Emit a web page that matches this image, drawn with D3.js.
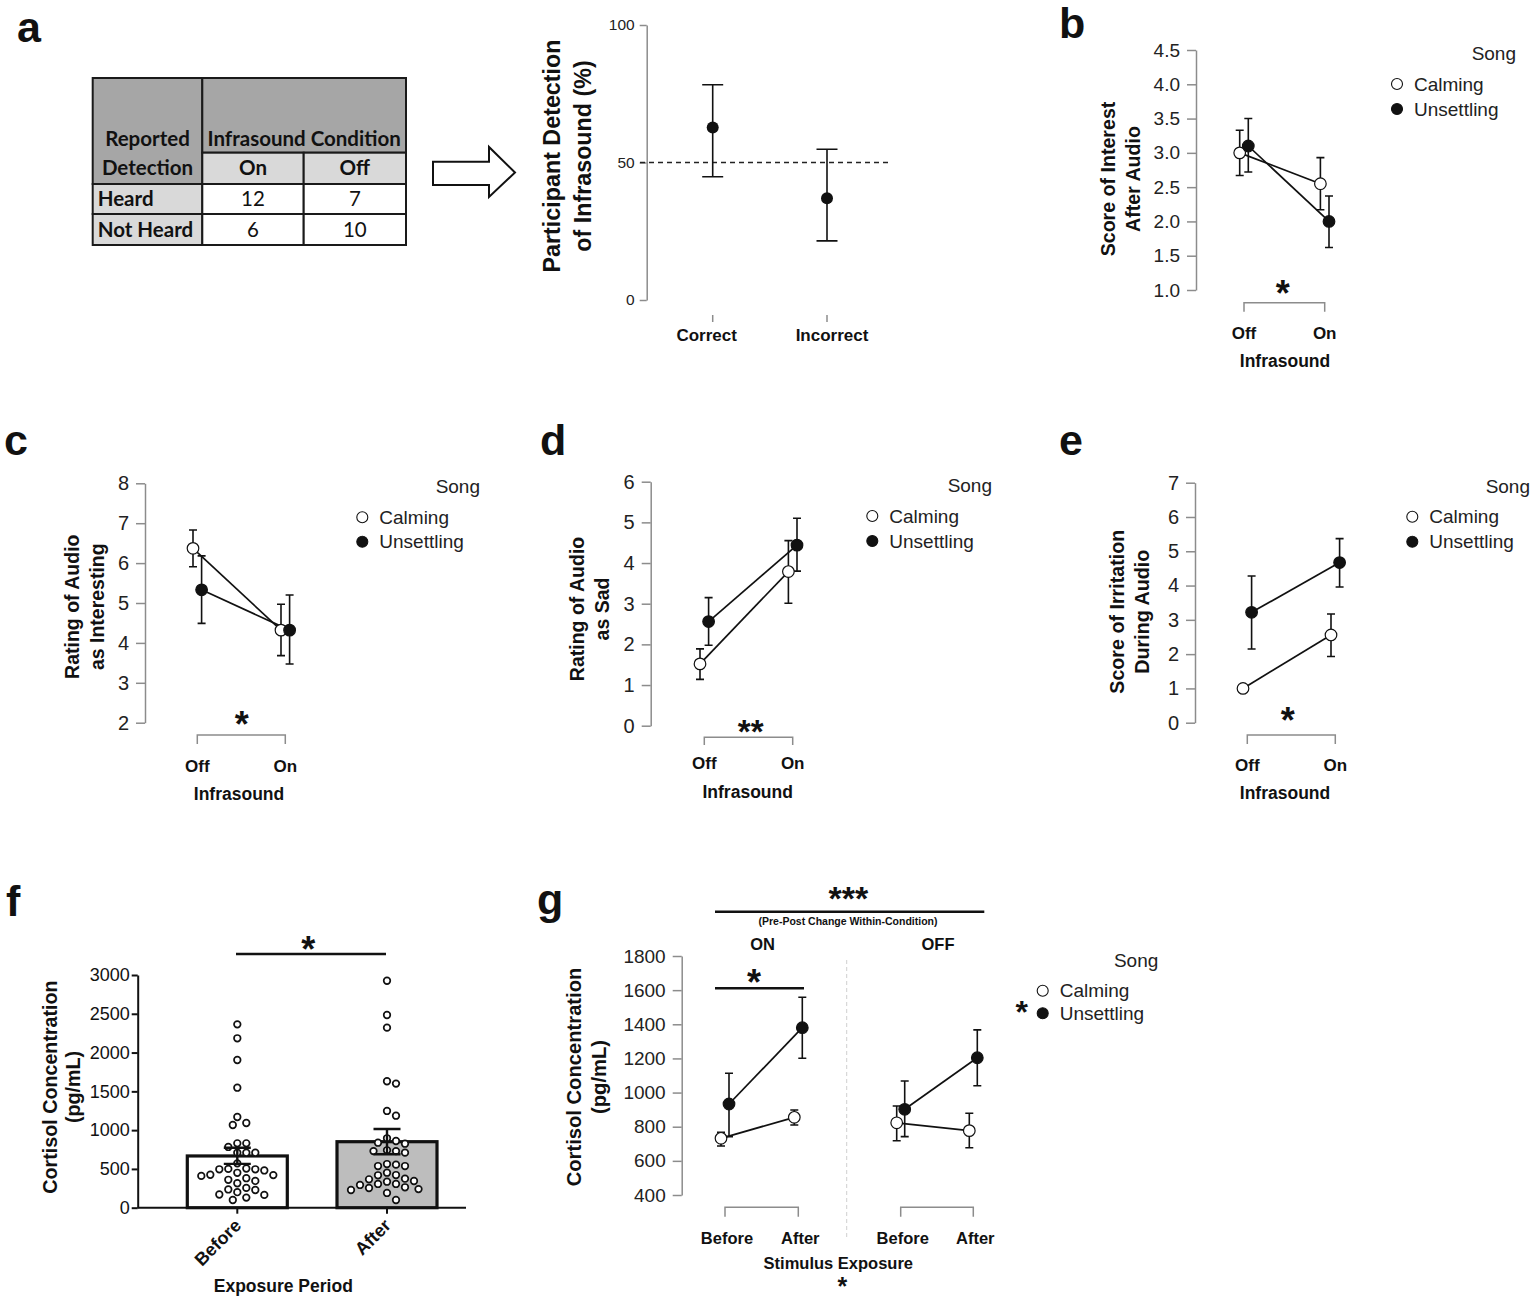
<!DOCTYPE html>
<html>
<head>
<meta charset="utf-8">
<script src="https://cdn.jsdelivr.net/npm/d3@7"></script>
<style>
  body { margin: 0; background: #fff; }
  svg { display: block; font-family: "Liberation Sans", Arial, sans-serif; }
</style>
</head>
<body>
<svg id="fig" width="1535" height="1300"></svg>
<script>
// ---------- data ----------
var tableCols = ["On", "Off"];
var tableRows = ["Heard", "Not Heard"];
var heardCounts = [12, 7];
var notHeardCounts = [6, 10];

var detectCats = ["Correct", "Incorrect"];
var detectMean = [62.7, 37.0];
var detectLo = [44.8, 21.5];
var detectHi = [78.3, 54.8];

var songs = ["Calming", "Unsettling"];
var infraLevels = ["Off", "On"];

// b: score of interest after audio
var interestCalm = [3.0, 2.55], interestCalmLo = [2.67, 2.17], interestCalmHi = [3.33, 2.93];
var interestUns = [3.1, 2.0], interestUnsLo = [2.72, 1.62], interestUnsHi = [3.5, 2.37];
// c: rating as interesting
var interestingCalm = [6.37, 4.32], interestingCalmLo = [5.91, 3.68], interestingCalmHi = [6.83, 4.97];
var interestingUns = [5.33, 4.32], interestingUnsLo = [4.49, 3.47], interestingUnsHi = [6.18, 5.2];
// d: rating as sad
var sadCalm = [1.52, 3.79], sadCalmLo = [1.14, 3.01], sadCalmHi = [1.89, 4.55];
var sadUns = [2.56, 4.44], sadUnsLo = [1.98, 3.8], sadUnsHi = [3.15, 5.1];
// e: irritation during audio
var irritCalm = [1.0, 2.56], irritCalmLo = [1.0, 1.93], irritCalmHi = [1.0, 3.17];
var irritUns = [3.22, 4.67], irritUnsLo = [2.15, 3.96], irritUnsHi = [4.28, 5.37];

// f: cortisol before / after
var periods = ["Before", "After"];
var cortBarMean = [667, 851];
var cortBarLo = [565, 690];
var cortBarHi = [773, 1015];
var cortBefore = [2364, 2184, 1904, 1547, 1169, 1092, 1066, 830, 830, 783, 709, 709, 709, 572,
  505, 500, 495, 495, 480, 450, 425, 420, 410, 380, 360, 345, 315, 255, 235, 228, 200, 170, 165, 130, 99];
var cortAfter = [2926, 2484, 2321, 1630, 1600, 1247, 1186, 895, 860, 838, 825, 740, 730, 730, 710,
  563, 555, 537, 537, 451, 421, 418, 374, 366, 344, 335, 306, 306, 293, 263, 254, 240, 228, 190, 99];

// g: cortisol by infrasound condition and song
var conditions = ["ON", "OFF"];
var onCalm = [732, 855], onCalmLo = [687, 810], onCalmHi = [768, 898];
var onUns = [933, 1380], onUnsLo = [742, 1201], onUnsHi = [1113, 1558];
var offCalm = [823, 777], offCalmLo = [718, 677], offCalmHi = [921, 879];
var offUns = [902, 1204], offUnsLo = [742, 1040], offUnsHi = [1068, 1367];

// ---------- drawing ----------
var svg = d3.select("#fig");
var GRAY = "#8c8c8c";
var INK = "#111";

// cy = visual centre of the asterisk glyph
function star(g, x, cy, fs, s) {
  g.append("text").attr("x", x).attr("y", cy + fs * 0.58)
    .attr("text-anchor", "middle").attr("font-weight", "bold")
    .attr("font-size", fs).attr("fill", INK).text(s || "*");
}

function yLabel(g, lines, xs, cy, fs) {
  lines.forEach(function (t, i) {
    g.append("text")
      .attr("transform", "translate(" + xs[i] + "," + cy + ") rotate(-90)")
      .attr("text-anchor", "middle").attr("dy", "0.36em")
      .attr("font-weight", "bold").attr("font-size", fs).attr("fill", INK)
      .text(t);
  });
}

function errBar(g, x, ylo, yhi, half, w) {
  g.append("path")
    .attr("d", "M" + x + "," + ylo + "V" + yhi +
      "M" + (x - half) + "," + yhi + "H" + (x + half) +
      "M" + (x - half) + "," + ylo + "H" + (x + half))
    .attr("stroke", INK).attr("stroke-width", w || 1.6).attr("fill", "none");
}

function legend(g, L) {
  g.append("text").attr("x", L.right).attr("y", L.songY + 6).attr("text-anchor", "end")
    .attr("font-size", 19).attr("fill", "#222").text("Song");
  songs.forEach(function (s, i) {
    g.append("circle").attr("cx", L.x).attr("cy", L.ys[i]).attr("r", 5.5)
      .attr("fill", i === 0 ? "#fff" : INK).attr("stroke", INK).attr("stroke-width", 1.1);
    g.append("text").attr("x", L.x + 17).attr("y", L.ys[i] + 6.5)
      .attr("font-size", 19).attr("fill", "#222").text(s);
  });
}

function grayAxis(g, y, ticks, fmt, axisX, fs) {
  var ax = d3.axisLeft(y).tickValues(ticks).tickFormat(fmt)
    .tickSize(9).tickSizeOuter(0).tickPadding(7);
  var ag = g.append("g").attr("transform", "translate(" + axisX + ",0)").call(ax);
  ag.select(".domain").attr("stroke", GRAY).attr("stroke-width", 1.5);
  ag.selectAll(".tick line").attr("stroke", GRAY).attr("stroke-width", 1.5);
  ag.selectAll(".tick text").attr("fill", "#222").attr("font-size", fs)
    .attr("font-family", '"Liberation Sans", Arial, sans-serif');
  return ag;
}

// series: [{mean, lo, hi}, ...] in song order; x is a point scale over levels
function pointSeries(g, x, y, levels, series, dodge) {
  var line = d3.line().x(function (d) { return d.x; }).y(function (d) { return y(d.m); });
  var pts = series.map(function (s, si) {
    var dx = si === 0 ? -dodge : dodge;
    return levels.map(function (lv, i) {
      return { x: x(lv) + dx, m: s.mean[i], lo: s.lo[i], hi: s.hi[i], si: si };
    });
  });
  pts.forEach(function (p) {
    g.append("path").datum(p).attr("d", line)
      .attr("fill", "none").attr("stroke", INK).attr("stroke-width", 1.7);
  });
  pts.forEach(function (p) {
    p.forEach(function (d) { if (d.hi > d.lo) errBar(g, d.x, y(d.lo), y(d.hi), 4); });
  });
  pts.forEach(function (p) {
    g.selectAll(null).data(p).enter().append("circle")
      .attr("cx", function (d) { return d.x; })
      .attr("cy", function (d) { return y(d.m); })
      .attr("r", 5.8)
      .attr("fill", function (d) { return d.si === 0 ? "#fff" : INK; })
      .attr("stroke", INK).attr("stroke-width", 1.2);
  });
}

function interaction(cfg) {
  var g = svg.append("g");
  var y = d3.scaleLinear().domain(cfg.domain).range(cfg.yRange);
  var x = d3.scalePoint().domain(infraLevels).range(cfg.xRange);
  grayAxis(g, y, cfg.ticks, cfg.fmt, cfg.axisX, cfg.tickFs);
  g.append("path")
    .attr("d", "M" + x("Off") + "," + cfg.brBot + "V" + cfg.brTop + "H" + x("On") + "V" + cfg.brBot)
    .attr("fill", "none").attr("stroke", GRAY).attr("stroke-width", 1.5);
  g.selectAll(null).data(infraLevels).enter().append("text")
    .attr("x", function (d) { return x(d); }).attr("y", cfg.lvlY)
    .attr("text-anchor", "middle").attr("font-weight", "bold").attr("font-size", 17)
    .attr("fill", INK).text(function (d) { return d; });
  g.append("text").attr("x", cfg.titleX).attr("y", cfg.titleY).attr("text-anchor", "middle")
    .attr("font-weight", "bold").attr("font-size", 17.5).attr("fill", INK).text("Infrasound");
  star(g, cfg.starX, cfg.starY, cfg.starFs || 36, cfg.star);
  yLabel(g, cfg.ylab, cfg.ylabX, cfg.ylabY, cfg.ylabFs);
  pointSeries(g, x, y, infraLevels, cfg.series, 4.3);
  legend(g, cfg.legend);
}

// ---- panel letters ----
var letters = [["a", 17, 42], ["b", 1059, 38], ["c", 4, 455], ["d", 540, 455],
  ["e", 1059, 455], ["f", 6, 916], ["g", 537, 914]];
svg.selectAll(".letter").data(letters).enter().append("text")
  .attr("x", function (d) { return d[1]; }).attr("y", function (d) { return d[2]; })
  .attr("font-weight", "bold").attr("font-size", 43).attr("fill", INK)
  .text(function (d) { return d[0]; });

// ---- panel a: table ----
(function () {
  var g = svg.append("g").attr("font-family", "Lato, 'Liberation Sans', sans-serif");
  var xs = [92.7, 202.3, 303.7, 406];
  var ys = [78, 152.7, 184, 214, 245];
  var dark = "#a6a6a6", light = "#d9d9d9";
  var cells = [
    { c0: 0, c1: 1, r0: 0, r1: 2, fill: dark },
    { c0: 1, c1: 3, r0: 0, r1: 1, fill: dark },
    { c0: 1, c1: 2, r0: 1, r1: 2, fill: light, text: tableCols[0], bold: true },
    { c0: 2, c1: 3, r0: 1, r1: 2, fill: light, text: tableCols[1], bold: true },
    { c0: 0, c1: 1, r0: 2, r1: 3, fill: light, text: tableRows[0], bold: true, left: true },
    { c0: 1, c1: 2, r0: 2, r1: 3, fill: "#fff", text: heardCounts[0] },
    { c0: 2, c1: 3, r0: 2, r1: 3, fill: "#fff", text: heardCounts[1] },
    { c0: 0, c1: 1, r0: 3, r1: 4, fill: light, text: tableRows[1], bold: true, left: true },
    { c0: 1, c1: 2, r0: 3, r1: 4, fill: "#fff", text: notHeardCounts[0] },
    { c0: 2, c1: 3, r0: 3, r1: 4, fill: "#fff", text: notHeardCounts[1] }
  ];
  g.selectAll("rect").data(cells).enter().append("rect")
    .attr("x", function (d) { return xs[d.c0]; }).attr("y", function (d) { return ys[d.r0]; })
    .attr("width", function (d) { return xs[d.c1] - xs[d.c0]; })
    .attr("height", function (d) { return ys[d.r1] - ys[d.r0]; })
    .attr("fill", function (d) { return d.fill; })
    .attr("stroke", "#1a1a1a").attr("stroke-width", 2);
  g.selectAll(".cell").data(cells.filter(function (d) { return d.text !== undefined; })).enter()
    .append("text")
    .attr("x", function (d) { return d.left ? xs[d.c0] + 5 : (xs[d.c0] + xs[d.c1]) / 2; })
    .attr("y", function (d) { return (ys[d.r0] + ys[d.r1]) / 2 + 7; })
    .attr("text-anchor", function (d) { return d.left ? "start" : "middle"; })
    .attr("font-weight", function (d) { return d.bold ? "bold" : "normal"; })
    .attr("font-size", 20.5).attr("fill", "#111")
    .text(function (d) { return d.text; });
  g.append("text").attr("x", (xs[0] + xs[1]) / 2).attr("y", 146).attr("text-anchor", "middle")
    .attr("font-weight", "bold").attr("font-size", 20.5).attr("fill", "#111").text("Reported");
  g.append("text").attr("x", (xs[0] + xs[1]) / 2).attr("y", 175).attr("text-anchor", "middle")
    .attr("font-weight", "bold").attr("font-size", 20.5).attr("fill", "#111").text("Detection");
  g.append("text").attr("x", (xs[1] + xs[3]) / 2).attr("y", 146).attr("text-anchor", "middle")
    .attr("font-weight", "bold").attr("font-size", 20.5).attr("fill", "#111").text("Infrasound Condition");
  // arrow
  g.append("path")
    .attr("d", "M433,161.7H489V147L515,172.5L489,197V185H433Z")
    .attr("fill", "#fff").attr("stroke", "#111").attr("stroke-width", 2);
})();

// ---- panel a: detection chart ----
(function () {
  var g = svg.append("g");
  var y = d3.scaleLinear().domain([0, 100]).range([300, 25]);
  var x = d3.scalePoint().domain(detectCats).range([712.7, 827]);
  var ag = grayAxis(g, y, [0, 50, 100], d3.format("d"), 646.7, 15.5);
  ag.selectAll(".tick line").attr("x2", -7);
  ag.selectAll(".tick text").attr("x", -12);
  g.append("line").attr("x1", 640).attr("x2", 892).attr("y1", y(50)).attr("y2", y(50))
    .attr("stroke", "#222").attr("stroke-width", 1.5).attr("stroke-dasharray", "5,4");
  g.selectAll(".ct").data(detectCats).enter().append("line")
    .attr("x1", function (d) { return x(d); }).attr("x2", function (d) { return x(d); })
    .attr("y1", 315).attr("y2", 322).attr("stroke", GRAY).attr("stroke-width", 1.5);
  var labelShift = [-6, 5];
  g.selectAll(".cl").data(detectCats).enter().append("text")
    .attr("x", function (d, i) { return x(d) + labelShift[i]; }).attr("y", 341)
    .attr("text-anchor", "middle").attr("font-weight", "bold").attr("font-size", 17)
    .attr("fill", INK).text(function (d) { return d; });
  detectCats.forEach(function (c, i) {
    errBar(g, x(c), y(detectLo[i]), y(detectHi[i]), 10.5);
  });
  g.selectAll(".dp").data(detectCats).enter().append("circle")
    .attr("cx", function (d) { return x(d); })
    .attr("cy", function (d, i) { return y(detectMean[i]); })
    .attr("r", 6).attr("fill", INK);
  yLabel(g, ["Participant Detection", "of Infrasound (%)"], [552, 583], 156, 23.3);
})();

// ---- panels b-e ----
interaction({
  axisX: 1196, yRange: [290, 50], domain: [1, 4.5], ticks: d3.range(1, 4.51, 0.5),
  fmt: d3.format(".1f"), tickFs: 19, xRange: [1244, 1324.7], brTop: 302.7, brBot: 311.7,
  lvlY: 339, titleX: 1285, titleY: 367, starX: 1282.7, starY: 285,
  ylab: ["Score of Interest", "After Audio"], ylabX: [1108, 1133], ylabY: 179, ylabFs: 19.6,
  series: [{ mean: interestCalm, lo: interestCalmLo, hi: interestCalmHi },
           { mean: interestUns, lo: interestUnsLo, hi: interestUnsHi }],
  legend: { right: 1516, songY: 54, x: 1397, ys: [84, 109] }
});
interaction({
  axisX: 145, yRange: [722.7, 483.3], domain: [2, 8], ticks: d3.range(2, 9),
  fmt: d3.format("d"), tickFs: 20, xRange: [197.3, 285.3], brTop: 735, brBot: 744,
  lvlY: 772, titleX: 239, titleY: 800, starX: 241.7, starY: 716,
  ylab: ["Rating of Audio", "as Interesting"], ylabX: [71.7, 96.7], ylabY: 606.7, ylabFs: 19.5,
  series: [{ mean: interestingCalm, lo: interestingCalmLo, hi: interestingCalmHi },
           { mean: interestingUns, lo: interestingUnsLo, hi: interestingUnsHi }],
  legend: { right: 480, songY: 486.7, x: 362.3, ys: [517.3, 541.7] }
});
interaction({
  axisX: 650.7, yRange: [725.7, 481.7], domain: [0, 6], ticks: d3.range(0, 7),
  fmt: d3.format("d"), tickFs: 20, xRange: [704.3, 792.7], brTop: 737.3, brBot: 745,
  lvlY: 768.7, titleX: 747.7, titleY: 797.7, starX: 750.7, starY: 724, star: "**", starFs: 33,
  ylab: ["Rating of Audio", "as Sad"], ylabX: [576.7, 601.7], ylabY: 609, ylabFs: 19.5,
  series: [{ mean: sadCalm, lo: sadCalmLo, hi: sadCalmHi },
           { mean: sadUns, lo: sadUnsLo, hi: sadUnsHi }],
  legend: { right: 992, songY: 486, x: 872.3, ys: [516, 541] }
});
interaction({
  axisX: 1195, yRange: [722.7, 482.7], domain: [0, 7], ticks: d3.range(0, 8),
  fmt: d3.format("d"), tickFs: 20, xRange: [1247.3, 1335.3], brTop: 735, brBot: 744,
  lvlY: 771, titleX: 1285, titleY: 798.7, starX: 1287.7, starY: 712.3,
  ylab: ["Score of Irritation", "During Audio"], ylabX: [1116.7, 1141.7], ylabY: 611.7, ylabFs: 19.7,
  series: [{ mean: irritCalm, lo: irritCalmLo, hi: irritCalmHi },
           { mean: irritUns, lo: irritUnsLo, hi: irritUnsHi }],
  legend: { right: 1530, songY: 486.7, x: 1412.3, ys: [516.7, 541.7] }
});

// ---- panel f: bars with individual points ----
(function () {
  var g = svg.append("g");
  var y = d3.scaleLinear().domain([0, 3000]).range([1207.7, 975]);
  var x = d3.scalePoint().domain(periods).range([237.3, 387]);
  var barW = 100;
  var ax = d3.axisLeft(y).tickValues(d3.range(0, 3001, 500)).tickFormat(d3.format("d"))
    .tickSize(6).tickSizeOuter(0).tickPadding(2);
  var ag = g.append("g").attr("transform", "translate(137.7,0)").call(ax);
  ag.select(".domain").attr("stroke", INK).attr("stroke-width", 2);
  ag.selectAll(".tick line").attr("stroke", INK).attr("stroke-width", 2);
  ag.selectAll(".tick text").attr("fill", INK).attr("font-size", 18)
    .attr("font-family", '"Liberation Sans", Arial, sans-serif');
  g.append("line").attr("x1", 137.7).attr("x2", 466).attr("y1", y(0)).attr("y2", y(0))
    .attr("stroke", INK).attr("stroke-width", 2);
  g.selectAll(".xt").data(periods).enter().append("line")
    .attr("x1", function (d) { return x(d); }).attr("x2", function (d) { return x(d); })
    .attr("y1", y(0)).attr("y2", y(0) + 6).attr("stroke", INK).attr("stroke-width", 2);
  g.selectAll(".bar").data(periods).enter().append("rect")
    .attr("x", function (d) { return x(d) - barW / 2; })
    .attr("y", function (d, i) { return y(cortBarMean[i]); })
    .attr("width", barW)
    .attr("height", function (d, i) { return y(0) - y(cortBarMean[i]); })
    .attr("fill", function (d, i) { return i === 0 ? "#fff" : "#bdbdbd"; })
    .attr("stroke", INK).attr("stroke-width", 3.2);

  // simple beeswarm: keep each value's y, shift sideways to avoid overlap
  function swarm(vals, cx) {
    var placed = [], r2 = 8.6 * 8.6;
    vals.slice().sort(d3.descending).forEach(function (v) {
      var py = y(v);
      for (var k = 0; k < 40; k++) {
        var cands = k === 0 ? [0] : [k * 4.5, -k * 4.5];
        var hit = null;
        for (var j = 0; j < cands.length && hit === null; j++) {
          var px = cx + cands[j];
          var ok = placed.every(function (p) {
            return (p.x - px) * (p.x - px) + (p.y - py) * (p.y - py) >= r2;
          });
          if (ok) hit = px;
        }
        if (hit !== null) { placed.push({ x: hit, y: py }); break; }
      }
    });
    return placed;
  }
  [cortBefore, cortAfter].forEach(function (vals, i) {
    var pts = swarm(vals, x(periods[i]));
    g.selectAll(null).data(pts).enter().append("circle")
      .attr("cx", function (d) { return d.x; }).attr("cy", function (d) { return d.y; })
      .attr("r", 3.3).attr("fill", "#fff").attr("stroke", INK).attr("stroke-width", 1.7);
  });
  periods.forEach(function (p, i) {
    errBar(g, x(p), y(cortBarLo[i]), y(cortBarHi[i]), 13.5, 2.4);
  });
  g.selectAll(".xl").data(periods).enter().append("text")
    .attr("transform", function (d) { return "translate(" + (x(d) - 4) + "," + (y(0) + 10) + ") rotate(-45)"; })
    .attr("text-anchor", "end").attr("dy", "0.7em")
    .attr("font-weight", "bold").attr("font-size", 18).attr("fill", INK)
    .text(function (d) { return d; });
  g.append("text").attr("x", 283.3).attr("y", 1292).attr("text-anchor", "middle")
    .attr("font-weight", "bold").attr("font-size", 17.5).attr("fill", INK).text("Exposure Period");
  g.append("line").attr("x1", 236).attr("x2", 386).attr("y1", 954).attr("y2", 954)
    .attr("stroke", INK).attr("stroke-width", 2.5);
  star(g, 308.3, 941, 36);
  yLabel(g, ["Cortisol Concentration", "(pg/mL)"], [50, 73], 1087, 19.7);
})();

// ---- panel g ----
(function () {
  var g = svg.append("g");
  var y = d3.scaleLinear().domain([400, 1800]).range([1195, 956]);
  grayAxis(g, y, d3.range(400, 1801, 200), d3.format("d"), 681.7, 19);
  var groups = [
    { name: conditions[0], range: [725, 798.3], series: [
      { mean: onCalm, lo: onCalmLo, hi: onCalmHi }, { mean: onUns, lo: onUnsLo, hi: onUnsHi }] },
    { name: conditions[1], range: [900.7, 973.3], series: [
      { mean: offCalm, lo: offCalmLo, hi: offCalmHi }, { mean: offUns, lo: offUnsLo, hi: offUnsHi }] }
  ];
  g.append("line").attr("x1", 846.7).attr("x2", 846.7).attr("y1", 960).attr("y2", 1237)
    .attr("stroke", "#cfcfcf").attr("stroke-width", 1).attr("stroke-dasharray", "4,3");
  groups.forEach(function (grp) {
    var x = d3.scalePoint().domain(periods).range(grp.range);
    g.append("path")
      .attr("d", "M" + x("Before") + ",1216.7V1207.3H" + x("After") + "V1216.7")
      .attr("fill", "none").attr("stroke", GRAY).attr("stroke-width", 1.5);
    g.selectAll(null).data(periods).enter().append("text")
      .attr("x", function (d) { return x(d) + 2; }).attr("y", 1244.3)
      .attr("text-anchor", "middle").attr("font-weight", "bold").attr("font-size", 16.5)
      .attr("fill", INK).text(function (d) { return d; });
    g.append("text").attr("x", (grp.range[0] + grp.range[1]) / 2 + 1).attr("y", 949.5)
      .attr("text-anchor", "middle").attr("font-weight", "bold").attr("font-size", 16.5)
      .attr("fill", INK).text(grp.name);
    pointSeries(g, x, y, periods, grp.series, 4);
  });
  g.append("text").attr("x", 838.3).attr("y", 1268.5).attr("text-anchor", "middle")
    .attr("font-weight", "bold").attr("font-size", 16.5).attr("fill", INK).text("Stimulus Exposure");
  // bottom star: kept small enough that its text box stays inside the page
  g.append("text").attr("x", 842.3).attr("y", 1294.5).attr("text-anchor", "middle")
    .attr("font-weight", "bold").attr("font-size", 25).attr("fill", INK).text("*");
  g.append("line").attr("x1", 715).attr("x2", 984.3).attr("y1", 911.7).attr("y2", 911.7)
    .attr("stroke", INK).attr("stroke-width", 2.5);
  star(g, 848.3, 890, 34, "***");
  g.append("text").attr("x", 848).attr("y", 925).attr("text-anchor", "middle")
    .attr("font-weight", "bold").attr("font-size", 10.5).attr("fill", INK)
    .text("(Pre-Post Change Within-Condition)");
  g.append("line").attr("x1", 715).attr("x2", 804).attr("y1", 988.3).attr("y2", 988.3)
    .attr("stroke", INK).attr("stroke-width", 2.5);
  star(g, 754, 974, 36);
  yLabel(g, ["Cortisol Concentration", "(pg/mL)"], [573.3, 598.3], 1077, 20.2);
  legend(g, { right: 1158.3, songY: 960.7, x: 1042.7, ys: [990.7, 1013.3] });
  star(g, 1021.7, 1004, 32);
})();
</script>
</body>
</html>
